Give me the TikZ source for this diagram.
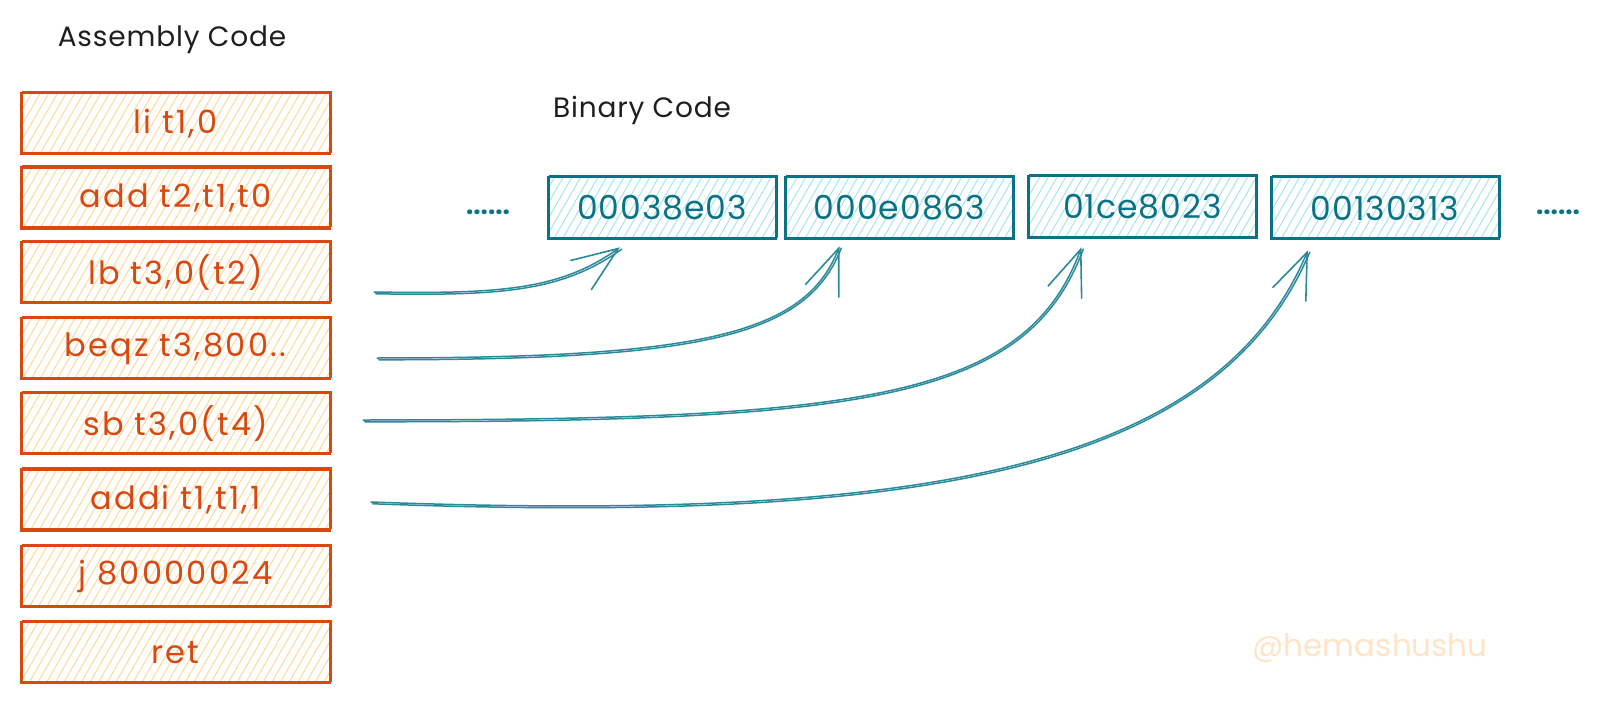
\documentclass[tikz,border=0pt]{standalone}
\usepackage{fontspec}
\setmainfont{Poppins}
\usetikzlibrary{patterns.meta,arrows.meta,calc}
\definecolor{asmstroke}{HTML}{D9480F}
\definecolor{asmhatch}{HTML}{FFD79A}
\definecolor{binstroke}{HTML}{0B7285}
\definecolor{binhatch}{HTML}{A5E4EE}
\definecolor{arrowcol}{HTML}{2A8A9A}
\definecolor{titlecol}{HTML}{1E1E1E}
\definecolor{markcol}{HTML}{FFE4C6}
\tikzset{
  sketchbox/.style={line width=2.6pt, inner sep=0pt,
    pattern={Lines[angle=60,distance=7.5pt,line width=1pt]},
    postaction={draw, line width=1.1pt, transform canvas={shift={(1.4pt,1.6pt)}}}},
  asmbox/.style={sketchbox, draw=asmstroke, minimum width=309pt, minimum height=61pt,
    text=asmstroke, font=\fontsize{32}{38}\selectfont\addfontfeature{LetterSpace=7}, pattern color=asmhatch},
  binbox/.style={sketchbox, draw=binstroke, minimum width=228pt, minimum height=62pt,
    text=binstroke, font=\fontsize{33}{40}\selectfont\addfontfeature{LetterSpace=3}, pattern color=binhatch},
  title/.style={text=titlecol, font=\fontsize{28}{34}\selectfont\addfontfeature{LetterSpace=3}},
  dotstext/.style={text=binstroke, font=\fontsize{26}{30}\selectfont\bfseries},
  wmark/.style={text=markcol, font=\fontsize{31}{36}\selectfont},
  link/.style={draw=arrowcol, line width=1.5pt, line cap=round,
    -{Straight Barb[length=46pt,width=36pt,line width=1.6pt]},
    postaction={draw=arrowcol, line width=1.5pt, -, transform canvas={shift={(1.8pt,-1.8pt)}}}},
}
\begin{document}
\begin{tikzpicture}[x=1pt,y=-1pt]
\useasboundingbox (0,0) rectangle (1606,703);
% titles
\node[title] (asmtitle) at (172,40) {Assembly Code};
\node[title] (bintitle) at (642,110) {Binary Code};
% assembly boxes
\node[asmbox] (a1) at (175.5,123.5) {li t1,0};
\node[asmbox] (a2) at (175.5,198) {add t2,t1,t0};
\node[asmbox] (a3) at (175.5,272.5) {lb t3,0(t2)};
\node[asmbox] (a4) at (175.5,348.5) {beqz t3,800..};
\node[asmbox] (a5) at (175.5,423.5) {sb t3,0(t4)};
\node[asmbox] (a6) at (175.5,500) {addi t1,t1,1};
\node[asmbox] (a7) at (175.5,576.5) {j 80000024};
\node[asmbox] (a8) at (175.5,652.5) {ret};
% binary boxes
\node[binbox] (b1) at (662,208) {00038e03};
\node[binbox] (b2) at (899.5,208) {000e0863};
\node[binbox] (b3) at (1142.5,207) {01ce8023};
\node[binbox] (b4) at (1385,208) {00130313};
\node[dotstext] (dl) at (488,212) {......};
\node[dotstext] (dr) at (1558,212) {......};
% watermark
\node[wmark] (wm) at (1370,648) {@hemashushu};
% arrow start points
\coordinate (s1) at (374,292);
\coordinate (s2) at (377,358);
\coordinate (s3) at (363,420);
\coordinate (s4) at (371,502);
\coordinate (t1) at ($(b1.south)+(-42,7)$);
\coordinate (t2) at ($(b2.south)+(-60,6)$);
\coordinate (t3) at ($(b3.south)+(-61,8)$);
\coordinate (t4) at ($(b4.south)+(-77,10)$);
\draw[link] (s1) .. controls (500,294) and (560,290) .. (t1);
\draw[link] (s2) .. controls (700,358) and (805,335) .. (t2);
\draw[link] (s3) .. controls (860,420) and (1025,400) .. (t3);
\draw[link] (s4) .. controls (920,522) and (1215,470) .. (t4);
\end{tikzpicture}
\end{document}
